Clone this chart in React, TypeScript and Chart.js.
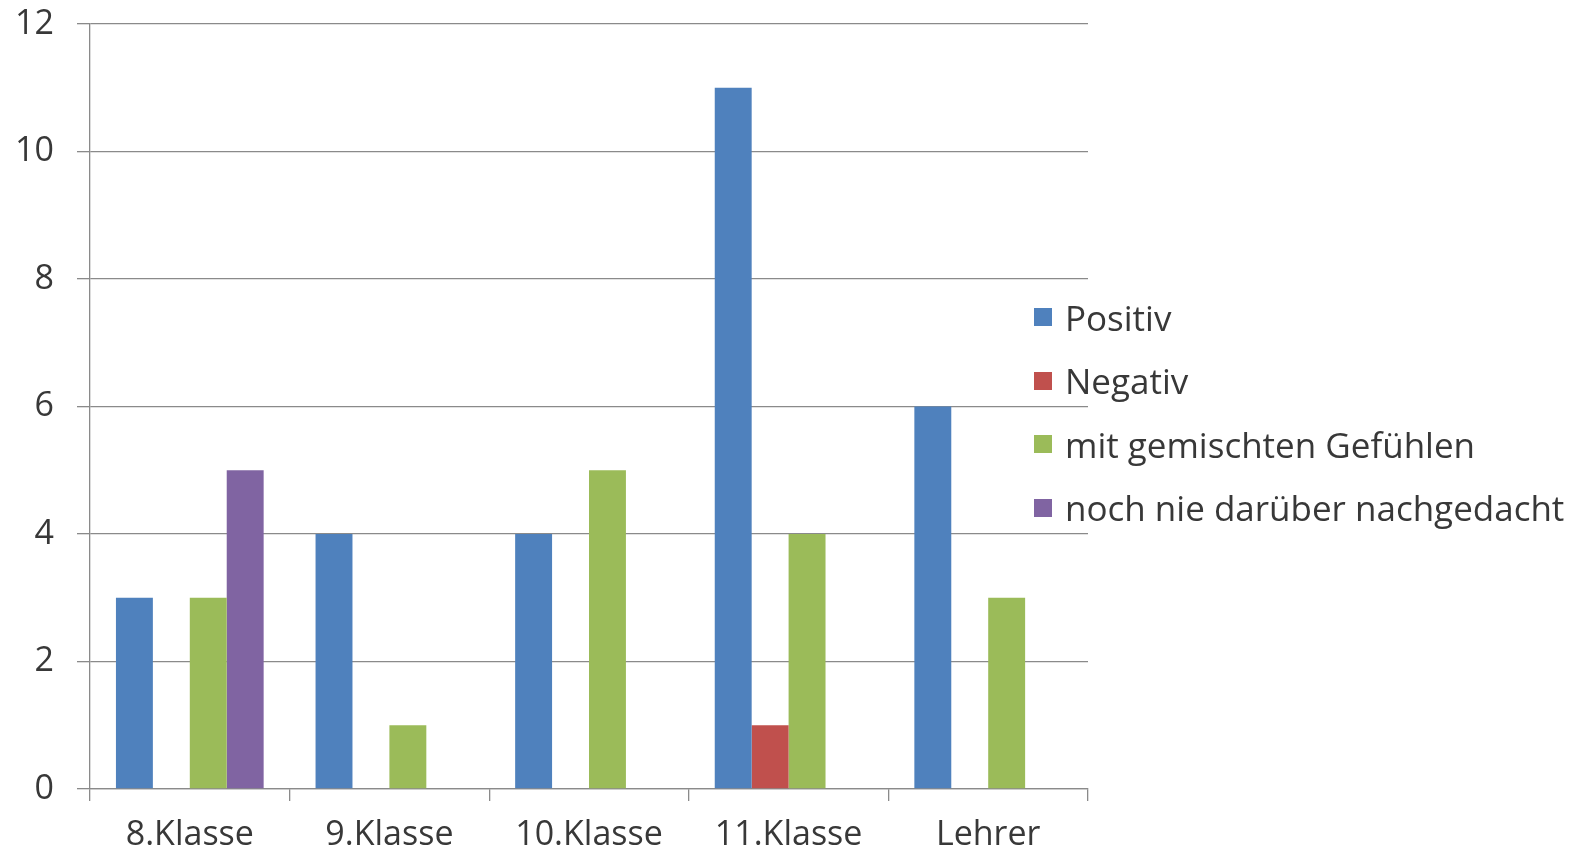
import React, { useEffect, useRef } from "react";
import { Chart, registerables } from "chart.js";

Chart.register(...registerables);

const categories = ["8.Klasse", "9.Klasse", "10.Klasse", "11.Klasse", "Lehrer"];
const positiv = [3, 4, 4, 11, 6];
const negativ = [0, 0, 0, 1, 0];
const gemischt = [3, 1, 5, 4, 3];
const nieNachgedacht = [5, 0, 0, 0, 0];
const seriesNames = ["Positiv", "Negativ", "mit gemischten Gefühlen", "noch nie darüber nachgedacht"];
const seriesValues = [positiv, negativ, gemischt, nieNachgedacht];
const colors = ["#4F81BD", "#C0504D", "#9BBB59", "#8064A2"];
const yMin = 0;
const yMax = 12;
const yStep = 2;

const FONT = '"Open Sans", "Noto Sans", sans-serif';
const TEXT = "#383838";
const GRID = "#8a8a8a";

export default function App() {
  const ref = useRef<HTMLCanvasElement | null>(null);

  useEffect(() => {
    if (!ref.current) return;
    const chart = new Chart(ref.current, {
      type: "bar",
      data: {
        labels: categories,
        datasets: seriesValues.map((vals, i) => ({
          label: seriesNames[i],
          data: vals,
          backgroundColor: colors[i],
          borderWidth: 0,
          categoryPercentage: 0.74,
          barPercentage: 1.0,
        })),
      },
      options: {
        responsive: false,
        animation: false,
        layout: { padding: { top: 24, right: 491, left: 0, bottom: 0 } },
        plugins: {
          legend: { display: false },
          tooltip: { enabled: false },
        },
        scales: {
          x: {
            grid: {
              display: true,
              offset: true,
              drawOnChartArea: false,
              drawTicks: true,
              tickLength: 12,
              color: GRID,
              lineWidth: 1.3,
            },
            border: { display: true, color: GRID, width: 1.3 },
            ticks: {
              color: TEXT,
              font: { family: FONT, size: 34 },
              padding: 14,
              maxRotation: 0,
            },
            afterFit: (scale: any) => {
              scale.height = 60;
              scale.paddingLeft = 0;
              scale.paddingRight = 0;
            },
          },
          y: {
            min: yMin,
            max: yMax,
            grid: {
              color: GRID,
              lineWidth: 1.3,
              drawTicks: true,
              tickLength: 13,
            },
            border: { display: true, color: GRID, width: 1.3 },
            ticks: {
              stepSize: yStep,
              color: TEXT,
              font: { family: FONT, size: 34 },
              padding: 23,
            },
            afterFit: (scale: any) => {
              scale.width = 90;
              scale.paddingTop = 0;
              scale.paddingBottom = 0;
            },
          },
        },
      },
    });
    return () => chart.destroy();
  }, []);

  return (
    <div style={{ position: "fixed", left: 0, top: 0, width: 1579, height: 849, background: "#fff" }}>
      <canvas ref={ref} width={1579} height={849} style={{ display: "block" }} />
      {seriesNames.map((name, i) => (
        <div
          key={name}
          style={{
            position: "absolute",
            left: 1034,
            top: 317 + i * 63.6 - 24,
            height: 48,
            display: "flex",
            alignItems: "center",
            fontFamily: FONT,
            fontSize: 35,
            color: TEXT,
            whiteSpace: "nowrap",
          }}
        >
          <span style={{ display: "inline-block", width: 18, height: 18, background: colors[i], marginRight: 13 }} />
          <span>{name}</span>
        </div>
      ))}
    </div>
  );
}
